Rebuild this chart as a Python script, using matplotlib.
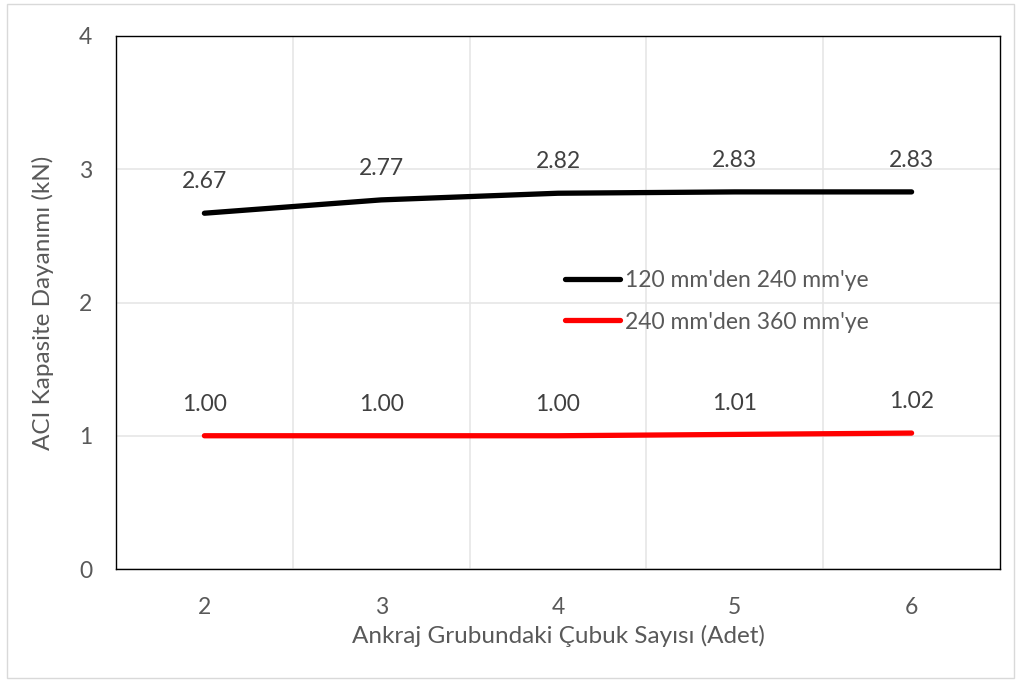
import matplotlib
matplotlib.use("Agg")
import matplotlib.pyplot as plt
from matplotlib.patches import Rectangle

# Data
categories = [2, 3, 4, 5, 6]
series_names = ["120 mm'den 240 mm'ye", "240 mm'den 360 mm'ye"]
values_120_240 = [2.67, 2.77, 2.82, 2.83, 2.83]
values_240_360 = [1.00, 1.00, 1.00, 1.01, 1.02]
y_ticks = [0, 1, 2, 3, 4]

text_color = "#595959"
grid_color = "#e6e6e6"
plt.rcParams["font.family"] = ["Lato", "DejaVu Sans"]

fig = plt.figure(figsize=(10.21, 6.82), dpi=100)
fig.patches.append(Rectangle((7 / 1021, 4 / 682), 1007 / 1021, 674 / 682,
                             transform=fig.transFigure, fill=False,
                             edgecolor="#d9d9d9", linewidth=1.0))

ax = fig.add_axes([116 / 1021, 113 / 682, 884 / 1021, 533 / 682])
x = list(range(len(categories)))

ax.set_xlim(-0.5, len(categories) - 0.5)
ax.set_ylim(0, 4)
ax.set_yticks(y_ticks)
ax.set_xticks(x)
ax.set_xticklabels([str(c) for c in categories])
ax.set_xticks([i + 0.5 for i in x[:-1]] + [i for i in x], minor=True)
ax.grid(True, which="minor", axis="x", color=grid_color, linewidth=1.2)
ax.grid(True, which="major", axis="y", color=grid_color, linewidth=1.2)
ax.set_axisbelow(True)
ax.tick_params(which="both", length=0)
ax.tick_params(axis="both", labelsize=16.5, labelcolor=text_color)
ax.tick_params(axis="x", pad=20)
ax.tick_params(axis="y", pad=17)
for s in ax.spines.values():
    s.set_color("black")
    s.set_linewidth(1.0)

ax.plot(x, values_120_240, color="black", linewidth=3.8,
        solid_capstyle="round", label=series_names[0])
ax.plot(x, values_240_360, color="#ff0000", linewidth=3.8,
        solid_capstyle="round", label=series_names[1])

# Value labels above each point
for series in (values_120_240, values_240_360):
    for xi, v in zip(x, series):
        ax.annotate(f"{v:.2f}", (xi, v), xytext=(0, 22.5),
                    textcoords="offset points", ha="center", va="center",
                    fontsize=16.5, color="#404040")

ax.set_xlabel("Ankraj Grubundaki Çubuk Sayısı (Adet)", fontsize=17.5,
              color=text_color, labelpad=5)
ax.set_ylabel("ACI Kapasite Dayanımı (kN)", fontsize=17.5,
              color=text_color, labelpad=18)

leg = ax.legend(loc="center left", bbox_to_anchor=(0.508, 0.502),
                frameon=False, fontsize=16.5, handlelength=2.4,
                handletextpad=0.2, labelspacing=0.88, borderpad=0,
                borderaxespad=0, labelcolor=text_color)

fig.savefig("out.png", dpi=100)
